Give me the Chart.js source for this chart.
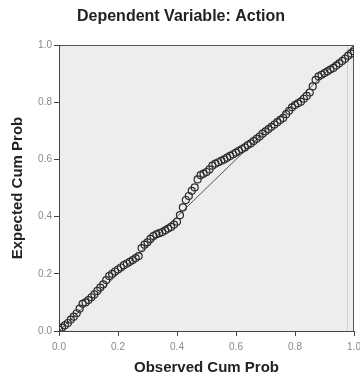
<!DOCTYPE html>
<html>
<head>
<meta charset="utf-8">
<script src="https://cdn.jsdelivr.net/npm/chart.js@4/dist/chart.umd.min.js"></script>
<style>
  html, body { margin: 0; padding: 0; background: #ffffff; }
  #wrap { width: 360px; height: 377px; }
</style>
</head>
<body>
<div id="wrap"><canvas id="grafico"></canvas></div>
<script>
// P-P plot: probabilidad acumulada observada vs esperada
const titulo = "Dependent Variable: Action";
const tituloX = "Observed Cum Prob";
const tituloY = "Expected Cum Prob";
const ticksEje = [0.0, 0.2, 0.4, 0.6, 0.8, 1.0];

const observada = [
  0.00, 0.01, 0.02, 0.03, 0.04, 0.05, 0.06, 0.07, 0.08, 0.09,
  0.10, 0.11, 0.12, 0.13, 0.14, 0.15, 0.16, 0.17, 0.18, 0.19,
  0.20, 0.21, 0.22, 0.23, 0.24, 0.25, 0.26, 0.27, 0.28, 0.29,
  0.30, 0.31, 0.32, 0.33, 0.34, 0.35, 0.36, 0.37, 0.38, 0.39,
  0.40, 0.41, 0.42, 0.43, 0.44, 0.45, 0.46, 0.47, 0.48, 0.49,
  0.50, 0.51, 0.52, 0.53, 0.54, 0.55, 0.56, 0.57, 0.58, 0.59,
  0.60, 0.61, 0.62, 0.63, 0.64, 0.65, 0.66, 0.67, 0.68, 0.69,
  0.70, 0.71, 0.72, 0.73, 0.74, 0.75, 0.76, 0.77, 0.78, 0.79,
  0.80, 0.81, 0.82, 0.83, 0.84, 0.85, 0.86, 0.87, 0.88, 0.89,
  0.90, 0.91, 0.92, 0.93, 0.94, 0.95, 0.96, 0.97, 0.98, 0.99,
  1.00
];
const esperada = [
  0.005, 0.012, 0.020, 0.028, 0.040, 0.050, 0.062, 0.078, 0.095, 0.100,
  0.108, 0.118, 0.128, 0.140, 0.152, 0.163, 0.178, 0.192, 0.200, 0.208,
  0.215, 0.222, 0.230, 0.236, 0.242, 0.248, 0.255, 0.262, 0.290, 0.302,
  0.310, 0.322, 0.332, 0.338, 0.342, 0.346, 0.352, 0.358, 0.364, 0.372,
  0.382, 0.405, 0.432, 0.458, 0.472, 0.490, 0.502, 0.530, 0.545, 0.550,
  0.556, 0.565, 0.578, 0.585, 0.590, 0.595, 0.600, 0.606, 0.612, 0.618,
  0.624, 0.630, 0.636, 0.642, 0.650, 0.656, 0.664, 0.672, 0.680, 0.690,
  0.698, 0.706, 0.714, 0.722, 0.730, 0.738, 0.745, 0.758, 0.770, 0.782,
  0.790, 0.796, 0.802, 0.812, 0.822, 0.834, 0.855, 0.878, 0.890, 0.896,
  0.902, 0.908, 0.914, 0.920, 0.928, 0.936, 0.944, 0.952, 0.962, 0.970,
  0.978
];
// linea de referencia (diagonal)
const diagonalX = [0, 1];
const diagonalY = [0, 1];

// fondo gris y marco del area de grafico
const fondoPlot = {
  id: 'fondoPlot',
  beforeDraw(chart) {
    const { ctx, chartArea: a } = chart;
    ctx.save();
    ctx.fillStyle = '#ededed';
    ctx.fillRect(a.left, a.top, a.right - a.left, a.bottom - a.top);
    ctx.strokeStyle = '#555';
    ctx.lineWidth = 1;
    ctx.beginPath();
    ctx.moveTo(a.left, a.top + 0.5);
    ctx.lineTo(a.right - 0.5, a.top + 0.5);
    ctx.lineTo(a.right - 0.5, a.bottom);
    ctx.stroke();
    ctx.strokeStyle = '#d0d0d0';
    ctx.beginPath();
    ctx.moveTo(a.right - 6.5, a.top + 2);
    ctx.lineTo(a.right - 6.5, a.bottom);
    ctx.stroke();
    ctx.restore();
  }
};

const ctx = document.getElementById('grafico').getContext('2d');
new Chart(ctx, {
  type: 'scatter',
  data: {
    datasets: [
      {
        label: 'Observados',
        data: observada.map((x, i) => ({ x: x, y: esperada[i] })),
        pointStyle: 'circle',
        pointRadius: 3.5,
        borderWidth: 1.2,
        borderColor: '#2a2a2a',
        backgroundColor: 'rgba(0,0,0,0)'
      },
      {
        type: 'line',
        label: 'Diagonal',
        data: diagonalX.map((x, i) => ({ x: x, y: diagonalY[i] })),
        borderColor: '#555',
        borderWidth: 1,
        pointRadius: 0,
        fill: false
      }
    ]
  },
  options: {
    responsive: true,
    maintainAspectRatio: false,
    animation: false,
    layout: { padding: { top: 45, right: 6, bottom: 0, left: 0 } },
    plugins: {
      legend: { display: false },
      tooltip: { enabled: false },
      title: { display: false }
    },
    scales: {
      x: {
        type: 'linear',
        min: 0, max: 1,
        afterBuildTicks: s => { s.ticks = ticksEje.map(v => ({ value: v })); },
        afterFit: s => { s.height = 46; s.paddingLeft = 0; s.paddingRight = 0; },
        border: { color: '#444', width: 1 },
        grid: { drawOnChartArea: false, tickLength: 5, color: '#444' },
        ticks: {
          color: '#888', padding: 5,
          font: { family: 'Arial, Liberation Sans', size: 10 },
          callback: v => v.toFixed(1)
        },
        title: {
          display: true, text: tituloX, color: '#222',
          font: { family: 'Arial, Liberation Sans', size: 15, weight: 'bold' },
          padding: { top: 0, bottom: 0 }
        }
      },
      y: {
        type: 'linear',
        min: 0, max: 1,
        afterBuildTicks: s => { s.ticks = ticksEje.map(v => ({ value: v })); },
        afterFit: s => { s.width = 59; s.paddingTop = 0; s.paddingBottom = 0; },
        border: { color: '#444', width: 1 },
        grid: { drawOnChartArea: false, tickLength: 5, color: '#444' },
        ticks: {
          color: '#888', padding: 2,
          font: { family: 'Arial, Liberation Sans', size: 10 },
          callback: v => v.toFixed(1)
        },
        title: {
          display: true, text: tituloY, color: '#222',
          font: { family: 'Arial, Liberation Sans', size: 15, weight: 'bold' },
          padding: { top: 9, bottom: 0 }
        }
      }
    }
  },
  plugins: [fondoPlot, {
    id: 'tituloArriba',
    afterDraw(chart) {
      const c = chart.ctx;
      c.save();
      c.fillStyle = '#222';
      c.font = 'bold 16px Arial, "Liberation Sans"';
      c.textAlign = 'center';
      c.textBaseline = 'middle';
      c.fillText(titulo, 181, 17);
      c.restore();
    }
  }]
});
</script>
</body>
</html>
